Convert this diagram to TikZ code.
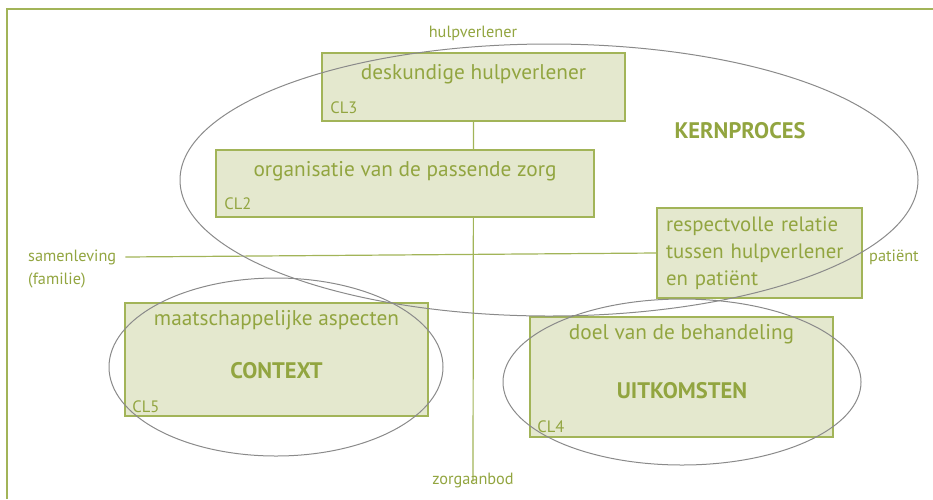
\documentclass[tikz,border=0pt]{standalone}
\usepackage{fontspec}
\setmainfont{PT Sans}
\usetikzlibrary{positioning,backgrounds}

\definecolor{olivetext}{RGB}{146,165,64}
\definecolor{boxfill}{RGB}{228,232,206}
\definecolor{boxline}{RGB}{162,180,88}
\definecolor{ringgray}{RGB}{138,138,138}

\begin{document}
\begin{tikzpicture}[x=1pt, y=-1pt, node distance=4pt,
  cbox/.style={rectangle, draw=boxline, fill=boxfill, line width=1.6pt, inner sep=0pt},
  boxtext/.style={text=olivetext, font=\fontsize{21.3}{27}\selectfont, inner sep=0pt},
  cltext/.style={text=olivetext, font=\fontsize{16.5}{18}\selectfont, inner sep=0pt},
  axislabel/.style={text=olivetext, font=\fontsize{16.3}{22}\selectfont, inner sep=0pt},
  bigword/.style={text=olivetext, font=\fontsize{22.5}{26}\selectfont\bfseries, inner sep=0pt},
  axis/.style={draw=boxline, line width=1.2pt},
  ring/.style={draw=ringgray, line width=1pt}]
  \useasboundingbox (0,0) rectangle (933,499);
  % frame
  \draw[draw=boxline, line width=1.6pt] (7,499) |- (933,9);

  % axis labels
  \node[axislabel] (hulpverlener) at (473,33) {hulpverlener};
  \node[axislabel] (zorgaanbod) at (473,481) {zorgaanbod};
  \node[axislabel, anchor=west] (samenleving) at (28,257) {samenleving};
  \node[axislabel, anchor=north west] (familie) at ([yshift=-8pt]samenleving.south west) {(familie)};
  \node[axislabel, anchor=west] (patient) at (869,257) {patiënt};

  % boxes
  \node[cbox, minimum width=303pt, minimum height=68pt] (cl3) at (473.5,87) {};
  \node[cbox, minimum width=378pt, minimum height=67pt] (cl2) at (405,183.5) {};
  \node[cbox, minimum width=205pt, minimum height=90pt, text width=187pt, inner xsep=9pt,
        align=left, text=olivetext, font=\fontsize{20.8}{27}\selectfont] (relatie) at (759.5,253)
        {respectvolle relatie\\tussen hulpverlener\\en patiënt};
  \node[cbox, minimum width=303pt, minimum height=113pt] (cl5) at (276.5,359.5) {};
  \node[cbox, minimum width=303pt, minimum height=120pt] (cl4) at (681.5,377) {};

  % axes
  \begin{scope}[on background layer]
    \draw[axis] ([xshift=9pt]samenleving.east) -- (relatie.west);
    \draw[axis] (cl3.south) -- ([yshift=-8pt]zorgaanbod.north);
  \end{scope}

  % box texts
  \node[boxtext, below=12pt of cl3.north] (deskundig) {deskundige hulpverlener};
  \node[cltext, above right=8pt and 9pt of cl3.south west, anchor=south west] (cl3nr) {CL3};
  \node[boxtext, below=12pt of cl2.north] (organisatie) {organisatie van de passende zorg};
  \node[cltext, above right=8pt and 9pt of cl2.south west, anchor=south west] (cl2nr) {CL2};
  \node[boxtext, below=8pt of cl5.north] (maatschappij) {maatschappelijke aspecten};
  \node[bigword] (context) at (276.5,370.5) {CONTEXT};
  \node[cltext, above right=4pt and 8pt of cl5.south west, anchor=south west] (cl5nr) {CL5};
  \node[boxtext, below=8pt of cl4.north] (doel) {doel van de behandeling};
  \node[bigword] (uitkomsten) at (682,390.5) {UITKOMSTEN};
  \node[cltext, above right=5pt and 8pt of cl4.south west, anchor=south west] (cl4nr) {CL4};
  \node[bigword] (kernproces) at (740,130.5) {KERNPROCES};

  % ellipses
  \draw[ring] (549,180) ellipse [x radius=369, y radius=136];
  \draw[ring] (276,367) ellipse [x radius=167, y radius=89];
  \draw[ring] (682,382) ellipse [x radius=179, y radius=83];
\end{tikzpicture}
\end{document}
